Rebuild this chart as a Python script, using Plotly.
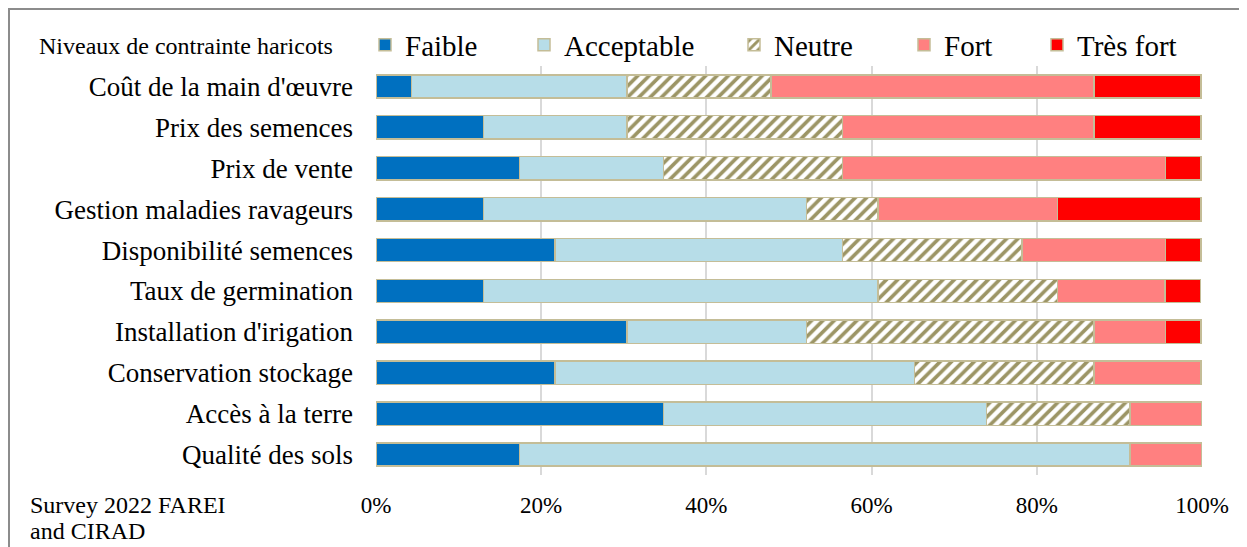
import plotly.graph_objects as go

categories = ["Coût de la main d'œuvre", "Prix des semences", "Prix de vente",
              "Gestion maladies ravageurs", "Disponibilité semences", "Taux de germination",
              "Installation d'irigation", "Conservation stockage", "Accès à la terre",
              "Qualité des sols"]
faible = [4.3, 13.0, 17.4, 13.0, 21.7, 13.0, 30.4, 21.7, 34.8, 17.4]
acceptable = [26.1, 17.4, 17.4, 39.1, 34.8, 47.8, 21.7, 43.5, 39.1, 73.9]
neutre = [17.4, 26.1, 21.7, 8.7, 21.7, 21.7, 34.8, 21.7, 17.4, 0.0]
fort = [39.1, 30.4, 39.1, 21.7, 17.4, 13.0, 8.7, 13.0, 8.7, 8.7]
tres_fort = [13.0, 13.0, 4.3, 17.4, 4.3, 4.3, 4.3, 0.0, 0.0, 0.0]
series_names = ["Faible", "Acceptable", "Neutre", "Fort", "Très fort"]
tick_vals = [0, 20, 40, 60, 80, 100]
tick_text = ["0%", "20%", "40%", "60%", "80%", "100%"]

colors = ["#0070C0", "#B7DDE8", "#FFFFFF", "#FF8080", "#FF0000"]
edge = "#C4BD97"
FONT = "Liberation Serif"

# page body has an 8px margin: figure occupies target pixels 8..1247, 8..547
OFF = 8
W, H = 1247 - OFF, 547 - OFF
L, R, T, B = 376 - OFF, 45, 66 - OFF, 72
pw, ph = W - L - R, H - T - B


def px(tx):
    return (tx - OFF - L) / pw


def py(ty):
    return 1 - (ty - OFF - T) / ph


legend_x = [383, 542, 752, 922, 1055]

fig = go.Figure()
layout_legends = {}
for i, (name, vals, col) in enumerate(zip(series_names, [faible, acceptable, neutre, fort, tres_fort], colors)):
    marker = dict(color=col, line=dict(color=edge, width=1.5))
    if name == "Neutre":
        marker["pattern"] = dict(shape="/", fgcolor="#9C9565", bgcolor="#FFFFFF",
                                 size=8, solidity=0.45, fillmode="replace")
    lg = "legend" if i == 0 else f"legend{i + 1}"
    fig.add_trace(go.Bar(name=name, y=categories, x=vals, orientation="h",
                         marker=marker, legend=lg,
                         hovertemplate=name + ": %{x}%<extra>%{y}</extra>"))
    layout_legends[lg] = dict(orientation="h", x=px(legend_x[i] - 18), xanchor="left",
                              y=py(45), yanchor="middle", bgcolor="rgba(0,0,0,0)",
                              font=dict(size=29, family=FONT, color="black"), itemwidth=30)

fig.update_layout(
    barmode="stack",
    bargap=0.43,
    width=W, height=H,
    margin=dict(l=L, r=R, t=T, b=B, pad=0),
    paper_bgcolor="white", plot_bgcolor="white",
    font=dict(family=FONT, size=27, color="black"),
    xaxis=dict(range=[0, 100], tickvals=tick_vals, ticktext=tick_text,
               showgrid=True, gridcolor="#D9D9D9", gridwidth=1.5, zeroline=False,
               showline=False, tickfont=dict(size=23, family=FONT), ticklabelstandoff=14,
               fixedrange=True),
    yaxis=dict(categoryorder="array", categoryarray=categories, autorange="reversed",
               showgrid=False, showline=False, ticklabelstandoff=22,
               tickfont=dict(size=27, family=FONT), fixedrange=True),
    showlegend=True,
    **layout_legends,
)

# outer frame
fig.add_shape(type="rect", xref="paper", yref="paper",
              x0=(1 - L) / pw, x1=(1244 - OFF - L) / pw,
              y0=-(H - T + 20 - ph) / ph, y1=1 + (T - 1) / ph,
              line=dict(color="#8C8C8C", width=2), fillcolor="rgba(0,0,0,0)", layer="below")

fig.add_annotation(text="Niveaux de contrainte haricots", xref="paper", yref="paper",
                   x=px(37), y=py(46), xanchor="left", yanchor="middle",
                   showarrow=False, font=dict(size=24, family=FONT))
fig.add_annotation(text="Survey 2022 FAREI", xref="paper", yref="paper",
                   x=px(28), y=py(505), xanchor="left", yanchor="middle",
                   align="left", showarrow=False, font=dict(size=24, family=FONT))
fig.add_annotation(text="and CIRAD", xref="paper", yref="paper",
                   x=px(28), y=py(531), xanchor="left", yanchor="middle",
                   align="left", showarrow=False, font=dict(size=24, family=FONT))

fig.write_html("out.html")
